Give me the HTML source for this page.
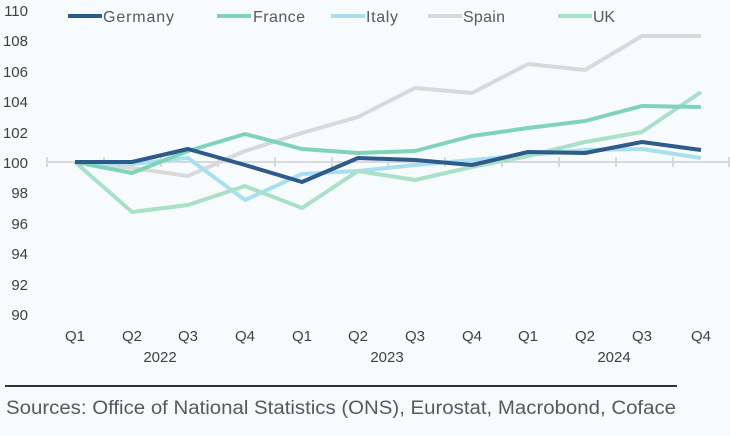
<!DOCTYPE html><html><head><style>body{margin:0;background:#f7fbfd}</style></head><body>
<svg width="730" height="431" xmlns="http://www.w3.org/2000/svg" font-family="Liberation Sans, sans-serif" fill="#404040">
<rect width="730" height="431" fill="#f7fbfd"/>
<g font-size="15" text-anchor="end">
<text x="28" y="16">110</text><text x="28" y="46">108</text><text x="28" y="77">106</text><text x="28" y="107">104</text><text x="28" y="138">102</text><text x="28" y="168">100</text><text x="28" y="198">98</text><text x="28" y="229">96</text><text x="28" y="259">94</text><text x="28" y="290">92</text><text x="28" y="320">90</text>
</g>
<g stroke="#d9d9d9" stroke-width="2">
<line x1="47" y1="162" x2="730" y2="162"/>
<path d="M47 157v10M104 157v10M161 157v10M218 157v10M275 157v10M332 157v10M388 157v10M445 157v10M502 157v10M559 157v10M616 157v10M673 157v10M729 157v10"/>
</g>
<g fill="none" stroke-width="4" stroke-linejoin="round">
<polyline stroke="#d9d9d9" points="75,162 132,168 188,176 245,151 302,133 358,117 415,88 472,93 528,64 585,70 642,36 701,36"/>
<polyline stroke="#a9e0ef" points="75,162 132,164 188,158 245,200 302,174 358,171 415,165 472,160 528,155 585,150 642,149 701,158"/>
<polyline stroke="#a8e0c8" points="75,162 132,212 188,205 245,186 302,208 358,171 415,180 472,167 528,156 585,142 642,132 701,92"/>
<polyline stroke="#7fd3b8" points="75,162 132,173 188,151 245,134 302,149 358,153 415,151 472,136 528,128 585,121 642,106 701,107"/>
<polyline stroke="#2f5a8c" points="75,162 132,162 188,149 245,165 302,182 358,158 415,160 472,165 528,152 585,153 642,142 701,150"/>
</g>
<g stroke-width="4">
<line x1="68" y1="16" x2="102" y2="16" stroke="#2f5a8c"/>
<line x1="217" y1="16" x2="251" y2="16" stroke="#7fd3b8"/>
<line x1="331" y1="16" x2="365" y2="16" stroke="#a9e0ef"/>
<line x1="428" y1="16" x2="462" y2="16" stroke="#d9d9d9"/>
<line x1="558" y1="16" x2="592" y2="16" stroke="#a8e0c8"/>
</g>
<g font-size="16" fill="#595959">
<text x="103" y="22" textLength="71">Germany</text><text x="253" y="22" textLength="52">France</text><text x="366" y="22" textLength="32">Italy</text><text x="463" y="22" textLength="42">Spain</text><text x="593" y="22" textLength="22">UK</text>
</g>
<g font-size="15" text-anchor="middle">
<text x="75" y="341">Q1</text><text x="132" y="341">Q2</text><text x="188" y="341">Q3</text><text x="245" y="341">Q4</text><text x="302" y="341">Q1</text><text x="358" y="341">Q2</text><text x="415" y="341">Q3</text><text x="472" y="341">Q4</text><text x="528" y="341">Q1</text><text x="585" y="341">Q2</text><text x="642" y="341">Q3</text><text x="701" y="341">Q4</text>
<text x="160" y="362">2022</text><text x="387" y="362">2023</text><text x="614" y="362">2024</text>
</g>
<line x1="5" y1="386" x2="677" y2="386" stroke="#333" stroke-width="2"/>
<text x="6" y="414" font-size="19" fill="#595959" textLength="670" lengthAdjust="spacingAndGlyphs">Sources: Office of National Statistics (ONS), Eurostat, Macrobond, Coface</text>
</svg>
</body></html>
